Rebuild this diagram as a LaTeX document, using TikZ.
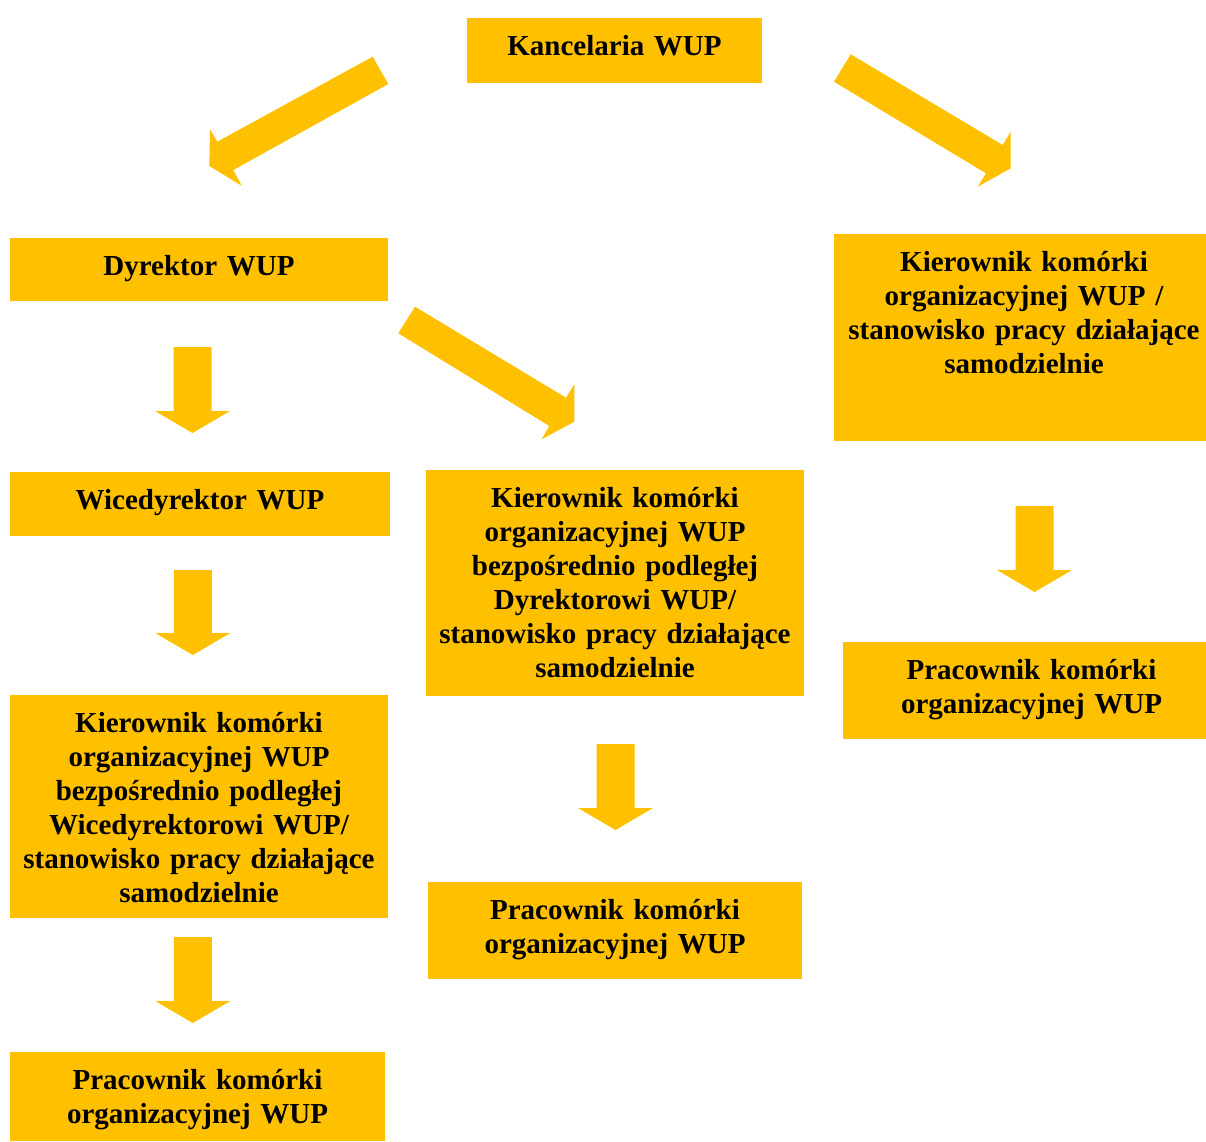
\documentclass[tikz,border=0pt]{standalone}
\usepackage{fontspec}
\setmainfont{Liberation Serif}
\definecolor{gold}{HTML}{FFC000}
\tikzset{
  boxs/.style={fill=gold, draw=none, inner sep=0pt, outer sep=0pt, anchor=north west},
  txt/.style={inner sep=0pt, outer sep=0pt, anchor=north, align=center,
    font={\fontsize{29}{34}\selectfont\bfseries}, text=black},
  barrow/.style={fill=gold, draw=none}
}
% [xshift of text], name, x1, y1, x2, y2, text
\newcommand\orgbox[7][0]{%
  \node[boxs, minimum width={(#5-#3)*1pt}, minimum height={(#6-#4)*1pt}] (#2) at (#3,#4) {};
  \node[txt, text width={(#5-#3)*1pt}] (#2t) at ([yshift=-13pt, xshift=#1pt]#2.north) {\rule{0pt}{24pt}#7};
}
% down arrow: cx, top, head, tip
\newcommand\downarr[4]{%
  \fill[barrow] (#1-19,#2) -- (#1+19,#2) -- (#1+19,#3) -- (#1+37.5,#3) -- (#1,#4)
    -- (#1-37.5,#3) -- (#1-19,#3) -- cycle;
}
\begin{document}
\begin{tikzpicture}[x=1pt, y=-1pt]
\useasboundingbox (0,0) rectangle (1206,1141);

\orgbox{kanc}{467}{18}{762}{83}{Kancelaria WUP}
\orgbox{dyr}{10}{238}{388}{301}{Dyrektor WUP}
\orgbox{wice}{10}{472}{390}{536}{Wicedyrektor WUP}
\orgbox[4]{kierR}{834}{234}{1206}{441}{Kierownik komórki\\organizacyjnej WUP /\\stanowisko pracy działające\\samodzielnie}
\orgbox{kierM}{426}{470}{804}{696}{Kierownik komórki\\organizacyjnej WUP\\bezpośrednio podległej\\Dyrektorowi WUP/\\stanowisko pracy działające\\samodzielnie}
\orgbox{kierL}{10}{695}{388}{918}{Kierownik komórki\\organizacyjnej WUP\\bezpośrednio podległej\\Wicedyrektorowi WUP/\\stanowisko pracy działające\\samodzielnie}
\orgbox[7]{pracR}{843}{642}{1206}{739}{Pracownik komórki\\organizacyjnej WUP}
\orgbox{pracM}{428}{882}{802}{979}{Pracownik komórki\\organizacyjnej WUP}
\orgbox{pracL}{10}{1052}{385}{1141}{Pracownik komórki\\organizacyjnej WUP}

% diagonal arrows
\fill[barrow] (372.7,56.7) -- (217.3,141.7) -- (210,129.3) -- (209.3,166) -- (241.7,185.7) -- (233.3,170) -- (388.3,84) -- cycle;
\fill[barrow] (850.7,54.3) -- (1002.7,145) -- (1010.7,131.7) -- (1010.7,168.3) -- (977.7,186.7) -- (986,173.3) -- (834,81.7) -- cycle;
\fill[barrow] (415,306.7) -- (566,397.7) -- (574.3,384.3) -- (574.3,421.7) -- (541.7,439.3) -- (549.3,426) -- (398.3,333.3) -- cycle;

% vertical arrows
\downarr{192.5}{347}{411}{433}
\downarr{192.8}{570}{633}{655}
\downarr{192.8}{937}{1001}{1023}
\downarr{615.5}{744}{808}{830}
\downarr{1034.5}{506}{570}{592}
\end{tikzpicture}
\end{document}
